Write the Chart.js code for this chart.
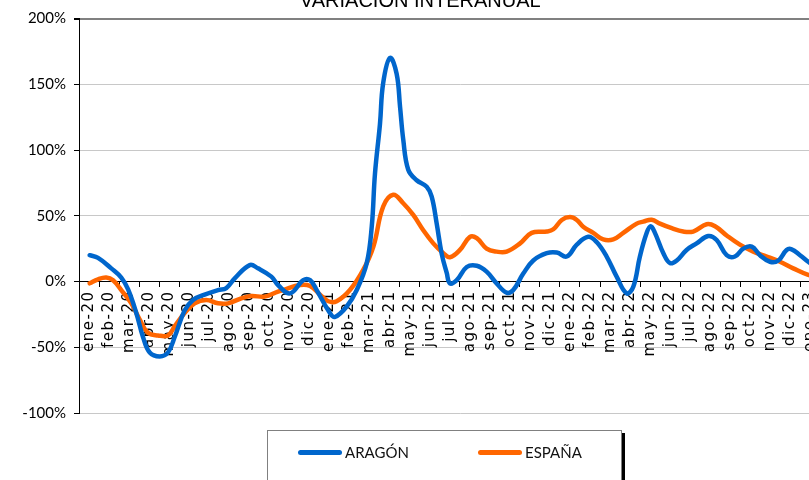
<!DOCTYPE html>
<html>
<head>
<meta charset="utf-8">
<script src="https://cdn.jsdelivr.net/npm/chart.js@4"></script>
<style>
  html, body { margin: 0; padding: 0; background: #fff; overflow: hidden; width: 809px; height: 480px; }
  #wrap { position: relative; width: 809px; height: 480px; overflow: hidden; }
  #chart { position: absolute; left: 0; top: -20px; }
  #legend {
    position: absolute; left: 267px; top: 430px; width: 353px; height: 60px;
    border: 1px solid #808080; background: #fff; box-shadow: 3px 3px 0 #000;
    font-family: Lato, sans-serif; font-size: 15px; color: #111;
  }
  .item { position: absolute; top: 12px; display: flex; align-items: center; }
  .swatch { width: 44px; height: 5px; border-radius: 3px; margin-right: 3px; }
</style>
</head>
<body>
<div id="wrap">
  <canvas id="chart" width="910" height="500"></canvas>
  <div id="legend">
    <div class="item" style="left:30px"><span class="swatch" style="background:#0066cc"></span>ARAGÓN</div>
    <div class="item" style="left:210px"><span class="swatch" style="background:#ff6600"></span>ESPAÑA</div>
  </div>
</div>
<script>
'use strict';

// month labels (category axis crossing at 0%)
const months = [
  'ene-20','feb-20','mar-20','abr-20','may-20','jun-20','jul-20','ago-20','sep-20','oct-20','nov-20','dic-20',
  'ene-21','feb-21','mar-21','abr-21','may-21','jun-21','jul-21','ago-21','sep-21','oct-21','nov-21','dic-21',
  'ene-22','feb-22','mar-22','abr-22','may-22','jun-22','jul-22','ago-22','sep-22','oct-22','nov-22','dic-22',
  'ene-23','feb-23'
];

// y ticks
const yMin = -100, yMax = 200, yStep = 50;

// ARAGÓN: position in months since start of ene-20, and % value
const aragonMonth = [0.53,0.95,1.61,2.11,2.45,2.86,3.19,3.53,4.03,4.44,4.78,5.27,5.69,6.27,6.94,7.35,7.77,8.52,8.93,9.6,
  9.93,10.53,11.19,11.53,11.86,12.52,12.77,13.36,13.86,14.36,14.61,14.77,15.02,15.18,15.52,15.85,16.02,16.18,16.43,16.85,
  17.35,17.6,17.85,18.1,18.35,18.51,18.85,19.35,19.85,20.34,20.84,21.34,21.67,22.17,22.67,23.34,23.84,24.34,24.84,25.41,
  25.83,26.33,26.83,27.33,27.66,27.99,28.33,28.53,28.74,29.16,29.49,29.83,30.32,30.82,31.4,31.82,32.32,32.73,33.15,33.57,
  33.98,34.48,34.9,35.31,35.56,35.98,36.39,37.0];
const aragonValue = [20,18,10,3,-6,-24,-42,-54,-57,-54,-42,-22,-14,-10,-6.5,-5,2.4,12.5,10,3.7,
  -2.7,-9,1,1,-6.5,-24,-27,-19,-6.5,14,42,82,120,151,170,158,133,108,85,77,
  72,64.5,44,21,6.5,-1.4,1,11,12,7.5,-1.4,-8.5,-6.5,6,16,21.5,22,19,28,34,
  30,19,3.7,-9,-4,19,37,42,37,21.5,14,16,24,29,34.6,31.6,20,19,25,26.5,
  20,15,16,24,24.5,20,15,8];

// ESPAÑA
const espanaMonth = [0.53,0.95,1.36,1.7,2.11,2.61,3.03,3.44,3.94,4.44,4.78,5.27,5.77,6.35,6.94,7.44,8.1,8.6,9.27,9.93,
  10.19,11.03,11.53,12.03,12.44,12.86,13.52,14.19,14.69,15.18,15.68,16.18,16.68,17.18,17.68,18.18,18.51,19.01,19.51,19.85,
  20.34,20.84,21.34,22.01,22.59,23.34,23.67,24.09,24.5,24.84,25.16,25.66,26.16,26.66,27.16,27.83,28.16,28.58,28.99,29.58,
  30.15,30.65,31.32,31.74,32.32,32.98,33.65,34.32,34.98,35.64,36.39,37.0];
const espanaValue = [-1.4,1.7,3,1,-6.5,-16.6,-29,-39,-41,-41,-34,-24,-16.6,-14,-16.6,-16.6,-12.8,-11,-11.5,-7.7,
  -6.5,-2.7,-3.4,-10,-15,-15,-6.5,9,26.5,57,66,59.5,50.6,39,29,21.5,18.4,24,34,33,
  25,22.7,22.7,29,37,38,39.7,46.8,49,46.8,41.7,37,32,32,37,44,45.5,47,44,40.5,
  38,38,43.5,42,35,28,22.7,19,15,10,5,3];

const toPoints = (xs, ys) => xs.map((x, i) => ({ x: x, y: ys[i] }));

const FONT = 'Lato, sans-serif';

// category axis whose labels are drawn with a bit of letter spacing
class SpacedCategoryScale extends Chart.CategoryScale {
  drawLabels(area){
    const ctx = this.ctx;
    ctx.save();
    ctx.letterSpacing = '1.5px';
    super.drawLabels(area);
    ctx.restore();
  }
}
SpacedCategoryScale.id = 'spacedCategory';
SpacedCategoryScale.defaults = Chart.CategoryScale.defaults;
Chart.register(SpacedCategoryScale);

function lineSet(label, data, color){
  return {
    label: label,
    data: data,
    borderColor: color,
    borderWidth: 4.5,
    pointRadius: 0,
    tension: 0.4,
    borderCapStyle: 'round',
    borderJoinStyle: 'round',
    xAxisID: 'x',
    yAxisID: 'y'
  };
}

new Chart(document.getElementById('chart'), {
  type: 'line',
  data: {
    datasets: [
      lineSet('ARAGÓN', toPoints(aragonMonth, aragonValue), '#0066cc'),
      lineSet('ESPAÑA', toPoints(espanaMonth, espanaValue), '#ff6600')
    ]
  },
  options: {
    responsive: false,
    animation: false,
    devicePixelRatio: 1,
    layout: { padding: { left: 0, right: 69.5, top: 0, bottom: 67 } },
    plugins: {
      legend: { display: false },
      tooltip: { enabled: false },
      title: {
        display: true,
        text: 'VARIACIÓN INTERANUAL',
        color: '#000',
        font: { family: 'Liberation Sans', size: 20, weight: 'normal' },
        padding: { top: 9, bottom: 5.5 }
      }
    },
    scales: {
      x: {
        type: 'linear',
        display: false,
        min: 0,
        max: months.length
      },
      months: {
        type: 'spacedCategory',
        axis: 'x',
        labels: months,
        offset: true,
        position: { y: 0 },
        grid: { drawOnChartArea: false, drawTicks: true, tickLength: 5, color: '#000', offset: true },
        border: { display: true, color: '#000', width: 1 },
        ticks: {
          autoSkip: false, minRotation: 90, maxRotation: 90, padding: 4,
          color: '#000', font: { family: 'DejaVu Sans', size: 15 }
        }
      },
      y: {
        min: yMin,
        max: yMax,
        afterFit: s => { s.width = 79; },
        ticks: {
          stepSize: yStep,
          padding: 8,
          color: '#000',
          font: { family: FONT, size: 15 },
          callback: v => v + '%'
        },
        grid: {
          tickLength: 5,
          tickColor: '#000',
          color: c => c.tick && c.tick.value === yMax ? '#808080' : '#c8c8c8',
          lineWidth: c => c.tick && c.tick.value === yMax ? 2 : 1
        },
        border: { display: true, color: '#000', width: 1 }
      }
    }
  }
});
</script>
</body>
</html>
